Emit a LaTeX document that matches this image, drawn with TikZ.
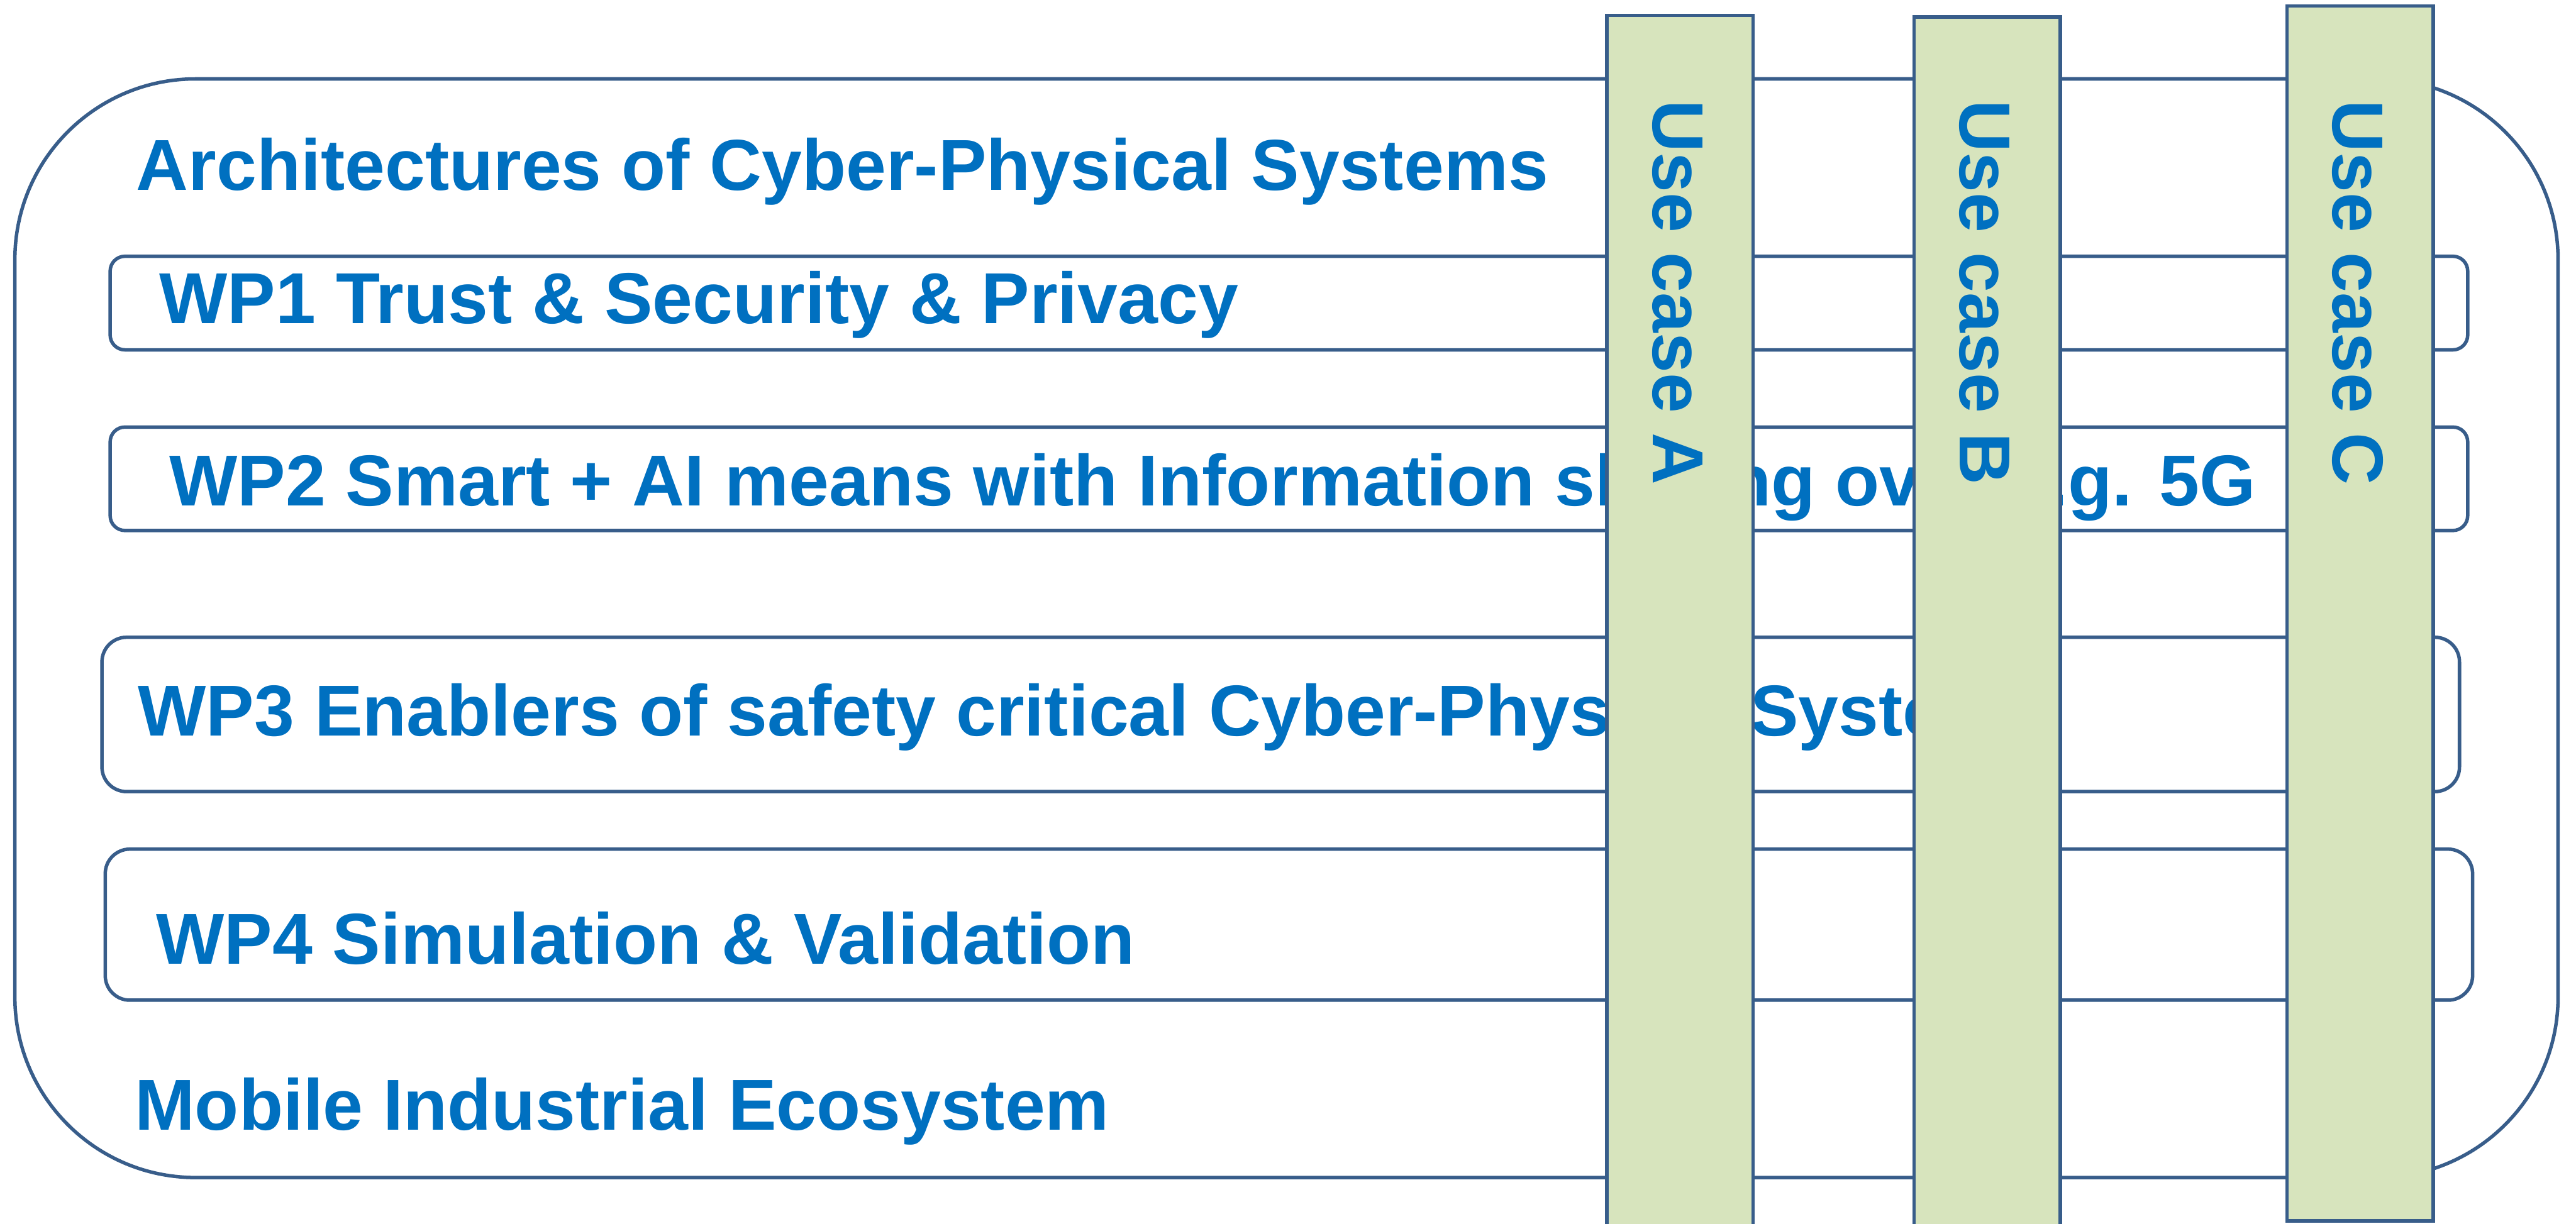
\documentclass[tikz,border=0pt]{standalone}
\usepackage{fontspec}
\setmainfont{Liberation Sans}
\definecolor{wpblue}{HTML}{0070C0}
\definecolor{wpline}{HTML}{385D8A}
\definecolor{ucgreen}{HTML}{D7E4BD}
\begin{document}
\begin{tikzpicture}[line width=0.6pt,font=\fontsize{12.5}{15}\selectfont\bfseries,
		wpbox/.style={draw=wpline,anchor=north west,inner sep=0pt},
		wptext/.style={text=wpblue,anchor=base west,inner sep=0pt},
		ucbox/.style={draw=wpline,fill=ucgreen,anchor=north west,inner sep=0pt,minimum width=0.89cm},
		uctext/.style={text=wpblue,anchor=base west,inner sep=0pt,rotate=-90}]
			\useasboundingbox (0,0) rectangle (15.68,7.45);
			% ecosystem frame with the architecture / ecosystem titles
			\node[wpbox,rounded corners=1.1cm,minimum width=15.48cm,minimum height=6.69cm] (eco) at (0.08,6.98) {};
			\node[wptext] (arch) at (0.82,6.29) {Architectures of Cyber-Physical Systems};
			\node[wptext] (mobile) at (0.81,0.57) {Mobile Industrial Ecosystem};
			% work packages
			\foreach \n/\x/\y/\w/\h/\r in {1/0.66/5.90/14.35/0.57/0.09,2/0.66/4.86/14.35/0.63/0.09,3/0.61/3.58/14.35/0.94/0.15,4/0.63/2.29/14.41/0.92/0.15}
				\node[wpbox,rounded corners=\r cm,minimum width=\w cm,minimum height=\h cm] (wp\n) at (\x,\y) {};
			\node[wptext] (wp1text) at (0.96,5.48) {WP1 Trust \& Security \& Privacy};
			\node[wptext] (wp2text) at (1.02,4.37) {WP2 Smart + AI means with Information sharing over e.g. 5G};
			\node[wptext] (wp3text) at (0.83,2.97) {WP3 Enablers of safety critical Cyber-Physical Systems};
			\node[wptext] (wp4text) at (0.94,1.58) {WP4 Simulation \& Validation};
			% use case columns across all work packages
			\coordinate (uctop) at (0,6.85);
			\foreach \n/\x/\y/\h in {A/9.77/7.366/7.6,B/11.64/7.357/7.6,C/13.91/7.424/7.398}{
				\node[ucbox,minimum height=\h cm] (uc\n) at (\x,\y) {};
				\node[uctext] (uc\n text) at ([xshift=-1.65mm]uc\n.center |- uctop) {Use case \n};
			}
	\end{tikzpicture}
\end{document}
